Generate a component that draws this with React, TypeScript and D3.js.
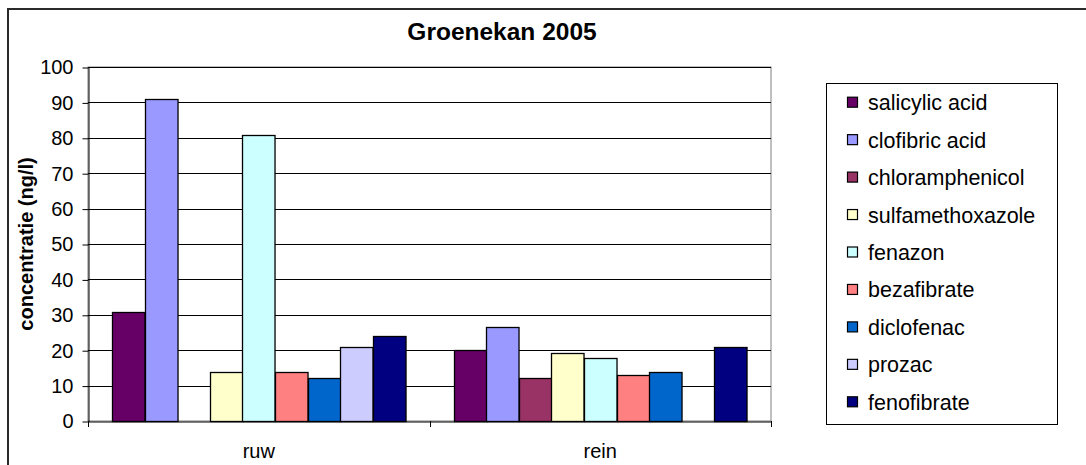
import React, { useEffect, useRef } from 'react';
import * as d3 from 'd3';

// categories on the x axis
const categories = ['ruw', 'rein'];

// series (legend order) and their fill colours
const seriesNames = [
  'salicylic acid',
  'clofibric acid',
  'chloramphenicol',
  'sulfamethoxazole',
  'fenazon',
  'bezafibrate',
  'diclofenac',
  'prozac',
  'fenofibrate',
];
const seriesColors = [
  '#660066',
  '#9999FF',
  '#993366',
  '#FFFFCC',
  '#CCFFFF',
  '#FF8080',
  '#0066CC',
  '#CCCCFF',
  '#000080',
];

// values per category, in series order (null = no bar)
const ruwValues: (number | null)[] = [30.8, 91, null, 13.8, 80.7, 13.8, 12.1, 21, 24.1];
const reinValues: (number | null)[] = [20, 26.6, 12.1, 19.1, 17.9, 12.9, 13.8, null, 21];

const yTicks = [0, 10, 20, 30, 40, 50, 60, 70, 80, 90, 100];

const FONT = "Arial, 'Liberation Sans', sans-serif";

export default function App() {
  const svgRef = useRef<SVGSVGElement>(null);

  useEffect(() => {
    if (!svgRef.current) return;
    const width = 1086;
    const height = 465;
    const plot = { left: 88, right: 771, top: 67, bottom: 421 };

    const svg = d3.select(svgRef.current)
      .attr('width', width)
      .attr('height', height);
    svg.selectAll('*').remove();

    svg.append('rect').attr('width', width).attr('height', height).attr('fill', '#fff');

    // outer chart border (runs off the right and bottom edges)
    svg.append('rect')
      .attr('x', 8).attr('y', 9)
      .attr('width', width + 20).attr('height', height + 20)
      .attr('fill', 'none')
      .attr('stroke', '#2a2a2a')
      .attr('stroke-width', 2);

    // title
    svg.append('text')
      .attr('x', 502).attr('y', 40)
      .attr('text-anchor', 'middle')
      .style('font-family', FONT)
      .style('font-size', '24.5px')
      .style('font-weight', 'bold')
      .text('Groenekan 2005');

    const x0 = d3.scaleBand()
      .domain(categories)
      .range([plot.left, plot.right])
      .padding(0);

    const x1 = d3.scaleBand()
      .domain(seriesNames)
      .range([0, x0.bandwidth()])
      .paddingInner(0)
      .paddingOuter(0.75);

    const y = d3.scaleLinear().domain([0, 100]).range([plot.bottom, plot.top]);

    // plot area border
    svg.append('rect')
      .attr('x', plot.left).attr('y', plot.top)
      .attr('width', plot.right - plot.left).attr('height', plot.bottom - plot.top)
      .attr('fill', 'none')
      .attr('stroke', '#808080')
      .attr('stroke-width', 1);

    // gridlines
    svg.append('g')
      .selectAll('line')
      .data(yTicks.filter(t => t > 0))
      .join('line')
      .attr('x1', plot.left).attr('x2', plot.right)
      .attr('y1', d => Math.round(y(d)) + 0.5).attr('y2', d => Math.round(y(d)) + 0.5)
      .attr('stroke', '#000')
      .attr('stroke-width', 1);

    // bars
    const valuesByCat = [ruwValues, reinValues];
    const barData: { cat: string; name: string; color: string; value: number }[] = [];
    categories.forEach((c, ci) => {
      seriesNames.forEach((s, si) => {
        const v = valuesByCat[ci][si];
        if (v != null) barData.push({ cat: c, name: s, color: seriesColors[si], value: v });
      });
    });

    svg.append('g')
      .selectAll('rect')
      .data(barData)
      .join('rect')
      .attr('x', d => Math.round(x0(d.cat)! + x1(d.name)!) + 0.5)
      .attr('y', d => Math.round(y(d.value)) + 0.5)
      .attr('width', x1.bandwidth())
      .attr('height', d => Math.round(y(0)) - Math.round(y(d.value)))
      .attr('fill', d => d.color)
      .attr('stroke', '#000')
      .attr('stroke-width', 1.3);

    // y axis
    const yAxis = svg.append('g')
      .attr('transform', `translate(${plot.left + 0.5},0.5)`)
      .call(d3.axisLeft(y).tickValues(yTicks).tickSize(6).tickPadding(9).tickSizeOuter(0));
    yAxis.selectAll('path, line').attr('stroke', '#000');
    yAxis.selectAll('text')
      .attr('fill', '#000')
      .style('font-family', FONT)
      .style('font-size', '20px');

    // x axis: line, boundary ticks, centred labels
    const xAxis = svg.append('g')
      .attr('transform', `translate(0,${plot.bottom + 0.5})`)
      .call(d3.axisBottom(x0).tickSize(0).tickPadding(22).tickSizeOuter(0));
    xAxis.select('.domain').attr('stroke', '#000');
    xAxis.selectAll('text')
      .attr('fill', '#000')
      .style('font-family', FONT)
      .style('font-size', '20px');

    const boundaries = [...categories.map(c => x0(c)!), plot.right];
    svg.append('g')
      .selectAll('line')
      .data(boundaries)
      .join('line')
      .attr('x1', d => Math.round(d) + 0.5).attr('x2', d => Math.round(d) + 0.5)
      .attr('y1', plot.bottom).attr('y2', plot.bottom + 6)
      .attr('stroke', '#000');

    // y axis title
    svg.append('text')
      .attr('transform', `translate(33,${(plot.top + plot.bottom) / 2}) rotate(-90)`)
      .attr('text-anchor', 'middle')
      .style('font-family', FONT)
      .style('font-size', '20px')
      .style('font-weight', 'bold')
      .text('concentratie (ng/l)');

    // legend
    const legend = svg.append('g');
    legend.append('rect')
      .attr('x', 826.5).attr('y', 83.5)
      .attr('width', 231).attr('height', 341)
      .attr('fill', '#fff')
      .attr('stroke', '#000')
      .attr('stroke-width', 1);

    const rowY = d3.scalePoint<string>()
      .domain(seriesNames)
      .range([102.7, 402.3]);

    const items = legend.selectAll('g.item')
      .data(seriesNames)
      .join('g')
      .attr('class', 'item')
      .attr('transform', d => `translate(0,${rowY(d)})`);

    items.append('rect')
      .attr('x', 847.5).attr('y', -5.5)
      .attr('width', 10).attr('height', 10)
      .attr('fill', (d, i) => seriesColors[i])
      .attr('stroke', '#000')
      .attr('stroke-width', 1.2);

    items.append('text')
      .attr('x', 868).attr('y', 7.5)
      .style('font-family', FONT)
      .style('font-size', '21.5px')
      .text(d => d);
  }, []);

  return (
    <svg ref={svgRef} style={{ position: 'absolute', left: 0, top: 0, display: 'block' }} />
  );
}
